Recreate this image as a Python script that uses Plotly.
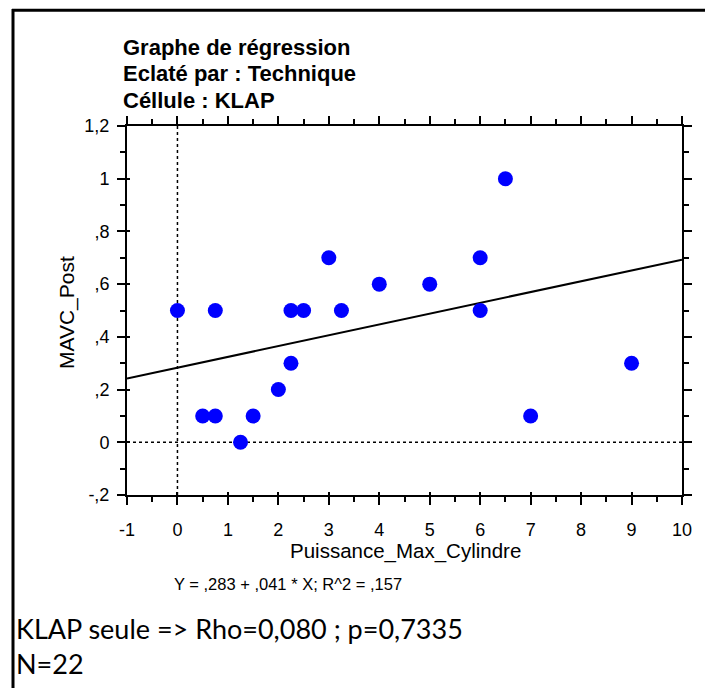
import plotly.graph_objects as go

# Data
puissance = [0, 0.5, 0.75, 0.75, 1.25, 1.5, 2, 2.25, 2.25, 2.5, 3, 3.25, 4, 5, 6, 6, 6.5, 7, 9]
mavc_post = [0.5, 0.1, 0.1, 0.5, 0.0, 0.1, 0.2, 0.3, 0.5, 0.5, 0.7, 0.5, 0.6, 0.6, 0.7, 0.5, 1.0, 0.1, 0.3]
intercept = 0.283
slope = 0.041
x_range = [-1, 10]
y_range = [-0.2, 1.2]
x_ticks = [-1, 0, 1, 2, 3, 4, 5, 6, 7, 8, 9, 10]
x_ticktext = ["-1", "0", "1", "2", "3", "4", "5", "6", "7", "8", "9", "10"]
y_ticks = [-0.2, 0, 0.2, 0.4, 0.6, 0.8, 1.0, 1.2]
y_ticktext = ["-,2", "0", ",2", ",4", ",6", ",8", "1", "1,2"]

title_lines = ["Graphe de régression", "Eclaté par : Technique", "Céllule : KLAP"]
equation = "Y = ,283 + ,041 * X; R^2 = ,157"
note1 = "KLAP seule => Rho=0,080 ; p=0,7335"
note2 = "N=22"

OFF = 8                      # default body margin of the html page
W, H = 713 - OFF, 688 - OFF
# plot box in page pixels: left 127, right 682, top 126, bottom 495
L, T = 127 - OFF, 126 - OFF
R = W - (682 - OFF)
B = H - (495 - OFF)
pw = W - L - R
ph = H - T - B


def px_x(p):
    return (p - OFF - L) / pw


def px_y(p):
    return (H - B - (p - OFF)) / ph


HELV = "Liberation Sans, Arial, Helvetica, sans-serif"

fig = go.Figure()

# regression line
reg_x = x_range
reg_y = [intercept + slope * v for v in reg_x]
fig.add_trace(go.Scatter(x=reg_x, y=reg_y, mode="lines",
                         line=dict(color="black", width=2), hoverinfo="skip",
                         showlegend=False))

fig.add_trace(go.Scatter(x=puissance, y=mavc_post, mode="markers",
                         marker=dict(color="#0000FF", size=15, line=dict(width=0)),
                         showlegend=False))

shapes = [
    dict(type="line", xref="x", yref="paper", x0=0, x1=0, y0=0, y1=1,
         line=dict(color="black", width=1.5, dash="dot"), layer="below"),
    dict(type="line", xref="paper", yref="y", x0=0, x1=1, y0=0, y1=0,
         line=dict(color="black", width=1.5, dash="dot"), layer="below"),
    # outer frame (top and left)
    dict(type="line", xref="paper", yref="paper", x0=px_x(12), x1=px_x(720),
         y0=px_y(10.3), y1=px_y(10.3), line=dict(color="black", width=3)),
    dict(type="line", xref="paper", yref="paper", x0=px_x(13), x1=px_x(13),
         y0=px_y(9), y1=px_y(700), line=dict(color="black", width=3)),
]

ann = []
tfont = dict(family=HELV, size=22, color="black")
for i, t in enumerate(title_lines):
    ann.append(dict(text="<b>" + t + "</b>", xref="paper", yref="paper",
                    x=px_x(121), y=px_y(47 + 27 * i), xanchor="left", yanchor="middle",
                    showarrow=False, font=tfont))
ann.append(dict(text="Puissance_Max_Cylindre", xref="paper", yref="paper",
                x=px_x(405), y=px_y(551), xanchor="center", yanchor="middle",
                showarrow=False, font=dict(family=HELV, size=20.5, color="black")))
ann.append(dict(text="MAVC_Post", xref="paper", yref="paper", textangle=-90,
                x=px_x(67), y=px_y(313), xanchor="center", yanchor="middle",
                showarrow=False, font=dict(family=HELV, size=21, color="black")))
ann.append(dict(text=equation, xref="paper", yref="paper",
                x=px_x(172), y=px_y(584), xanchor="left", yanchor="middle",
                showarrow=False, font=dict(family=HELV, size=16.5, color="black")))
ann.append(dict(text=note1, xref="paper", yref="paper",
                x=px_x(14), y=px_y(628), xanchor="left", yanchor="middle",
                showarrow=False, font=dict(family="Lato, Carlito, sans-serif", size=27, color="black")))
ann.append(dict(text=note2, xref="paper", yref="paper",
                x=px_x(14), y=px_y(663), xanchor="left", yanchor="middle",
                showarrow=False, font=dict(family="Lato, Carlito, sans-serif", size=27, color="black")))

axis_common = dict(showline=True, linecolor="black", linewidth=2, mirror="allticks",
                   ticks="outside", ticklen=8, tickwidth=2, tickcolor="black",
                   showgrid=False, zeroline=False,
                   tickfont=dict(family=HELV, size=18, color="black"))

# overlay axes that only draw the inner part of the crossing major ticks
inner_common = dict(showline=False, ticks="inside", ticklen=3, tickwidth=2, tickcolor="black",
                    showgrid=False, zeroline=False, showticklabels=False)

fig.update_layout(
    width=W, height=H,
    margin=dict(l=L, r=R, t=T, b=B),
    plot_bgcolor="white", paper_bgcolor="white",
    xaxis=dict(range=x_range, tickvals=x_ticks, ticktext=x_ticktext, **axis_common,
               minor=dict(dtick=0.5, ticks="outside", ticklen=5, tickwidth=2, tickcolor="black"),
               ticklabelstandoff=9),
    yaxis=dict(range=y_range, tickvals=y_ticks, ticktext=y_ticktext, **axis_common,
               minor=dict(dtick=0.1, ticks="outside", ticklen=5, tickwidth=2, tickcolor="black"),
               ticklabelstandoff=4),
    xaxis2=dict(range=x_range, tickvals=x_ticks, overlaying="x", side="bottom",
                anchor="y", **inner_common),
    yaxis2=dict(range=y_range, tickvals=y_ticks, overlaying="y", side="left",
                anchor="x", **inner_common),
    shapes=shapes, annotations=ann,
)
# invisible trace to activate the overlay axes
fig.add_trace(go.Scatter(x=[x_range[0]], y=[y_range[0]], xaxis="x2", yaxis="y2",
                         mode="markers", marker=dict(opacity=0), hoverinfo="skip",
                         showlegend=False))

fig.write_html("out.html")
